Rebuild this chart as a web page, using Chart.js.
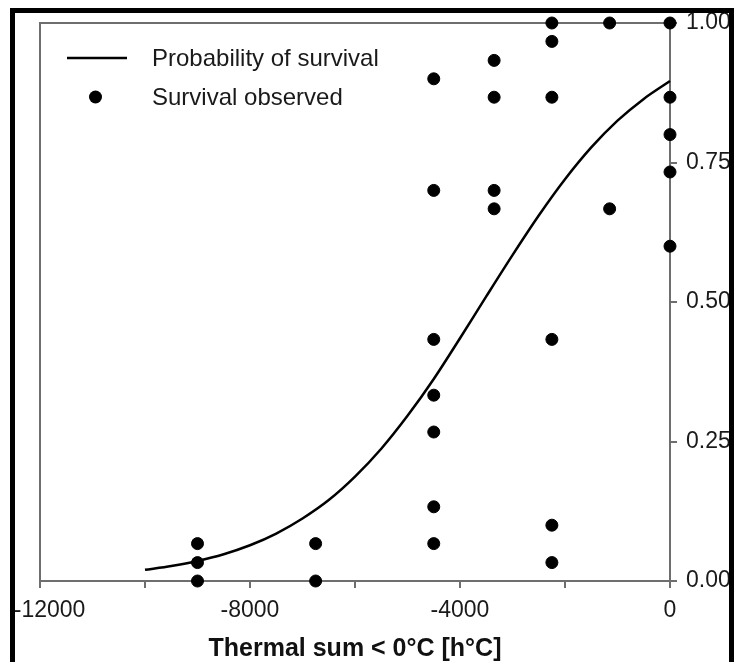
<!DOCTYPE html>
<html>
<head>
<meta charset="utf-8">
<script src="https://cdn.jsdelivr.net/npm/chart.js@4/dist/chart.umd.min.js"></script>
<style>
  html, body { margin: 0; padding: 0; background: #fff; }
  #wrap { position: relative; width: 734px; height: 662px; overflow: hidden; }
  #chart { position: absolute; left: 0; top: 0; }
  #frame {
    position: absolute; left: 10px; top: 8px; width: 714px; height: 700px;
    border: 5px solid #000; pointer-events: none;
  }
</style>
</head>
<body>
<div id="wrap">
  <canvas id="chart" width="734" height="662"></canvas>
  <div id="frame"></div>
</div>
<script>
// observed survival (fraction) per thermal sum
const obsX = [-9000, -9000, -9000,
  -6750, -6750,
  -4500, -4500, -4500, -4500, -4500, -4500, -4500,
  -3350, -3350, -3350, -3350,
  -2250, -2250, -2250, -2250, -2250, -2250,
  -1150, -1150,
  0, 0, 0, 0, 0];
const obsY = [0.067, 0.033, 0,
  0.067, 0,
  0.9, 0.7, 0.433, 0.333, 0.267, 0.133, 0.067,
  0.933, 0.867, 0.7, 0.667,
  1, 0.967, 0.867, 0.433, 0.1, 0.033,
  1, 0.667,
  1, 0.867, 0.8, 0.733, 0.6];

// fitted probability of survival
const curveX = [-10000, -9500, -9000, -8500, -8000, -7500, -7000, -6500, -6000, -5500, -5000,
  -4500, -4000, -3500, -3000, -2500, -2000, -1500, -1000, -500, 0];
const curveY = [0.020, 0.027, 0.036, 0.048, 0.064, 0.085, 0.112, 0.145, 0.187, 0.237, 0.296,
  0.362, 0.435, 0.510, 0.584, 0.655, 0.720, 0.777, 0.825, 0.864, 0.896];

const xTicks = [-12000, -8000, -4000, 0];
const yTicks = [0, 0.25, 0.5, 0.75, 1];

const legendItems = ['Probability of survival', 'Survival observed'];

const axisColor = '#6e6e6e';
const fontFamily = '"Liberation Sans", Arial, Helvetica, sans-serif';

const plotBox = {
  id: 'plotBox',
  beforeDatasetsDraw(chart) {
    const { ctx, chartArea: a } = chart;
    ctx.save();
    ctx.strokeStyle = axisColor;
    ctx.lineWidth = 2;
    ctx.strokeRect(a.left, a.top, a.right - a.left, a.bottom - a.top);
    ctx.restore();
  }
};

const innerLegend = {
  id: 'innerLegend',
  afterDraw(chart) {
    const { ctx } = chart;
    ctx.save();
    ctx.font = '24px ' + fontFamily;
    ctx.textBaseline = 'alphabetic';
    // line sample
    ctx.strokeStyle = '#000';
    ctx.lineWidth = 2.5;
    ctx.beginPath();
    ctx.moveTo(67, 58);
    ctx.lineTo(127, 58);
    ctx.stroke();
    ctx.fillStyle = '#1a1a1a';
    ctx.fillText(legendItems[0], 152, 66);
    // dot sample
    ctx.fillStyle = '#000';
    ctx.beginPath();
    ctx.arc(95.5, 97, 6.5, 0, Math.PI * 2);
    ctx.fill();
    ctx.fillStyle = '#1a1a1a';
    ctx.fillText(legendItems[1], 152, 105);
    ctx.restore();
  }
};

const ctx = document.getElementById('chart').getContext('2d');
new Chart(ctx, {
  type: 'scatter',
  data: {
    datasets: [
      {
        type: 'line',
        data: curveX.map((x, i) => ({ x: x, y: curveY[i] })),
        borderColor: '#000',
        borderWidth: 2.5,
        pointRadius: 0,
        tension: 0.3,
        fill: false,
        clip: false,
      },
      {
        data: obsX.map((x, i) => ({ x: x, y: obsY[i] })),
        backgroundColor: '#000',
        borderColor: '#000',
        pointRadius: 6,
        pointHoverRadius: 6,
        clip: false,
      },
    ],
  },
  options: {
    responsive: false,
    animation: false,
    devicePixelRatio: 1,
    layout: { padding: { left: 40, top: 23, right: 0, bottom: 0 } },
    plugins: {
      legend: { display: false },
      tooltip: { enabled: false },
    },
    scales: {
      x: {
        type: 'linear',
        min: -12000,
        max: 0,
        afterFit: (s) => { s.height = 81; s.paddingLeft = 0; s.paddingRight = 0; },
        border: { color: axisColor, width: 2 },
        grid: { drawOnChartArea: false, drawTicks: true, tickLength: 7, color: axisColor, lineWidth: 2 },
        ticks: {
          stepSize: 2000,
          padding: 9,
          maxRotation: 0,
          autoSkip: false,
          color: '#1a1a1a',
          font: { family: fontFamily, size: 23 },
          // first label sits against the frame in the original, so pad it right
          callback: (v) => (xTicks.includes(v) ? (v === -12000 ? '   ' + v : String(v)) : ''),
        },
        title: {
          display: true,
          text: 'Thermal sum < 0°C [h°C]',
          color: '#111',
          font: { family: fontFamily, size: 25, weight: 'bold' },
          padding: { top: 0, bottom: -2 },
        },
      },
      y: {
        type: 'linear',
        position: 'right',
        min: 0,
        max: 1,
        afterFit: (s) => { s.width = 64; s.paddingTop = 0; s.paddingBottom = 0; },
        border: { color: axisColor, width: 2 },
        grid: { drawOnChartArea: false, drawTicks: true, tickLength: 7, color: axisColor, lineWidth: 2 },
        ticks: {
          stepSize: 0.25,
          padding: 9,
          color: '#1a1a1a',
          font: { family: fontFamily, size: 23 },
          callback: (v) => (yTicks.includes(v) ? v.toFixed(2) : ''),
        },
      },
    },
  },
  plugins: [plotBox, innerLegend],
});
</script>
</body>
</html>
